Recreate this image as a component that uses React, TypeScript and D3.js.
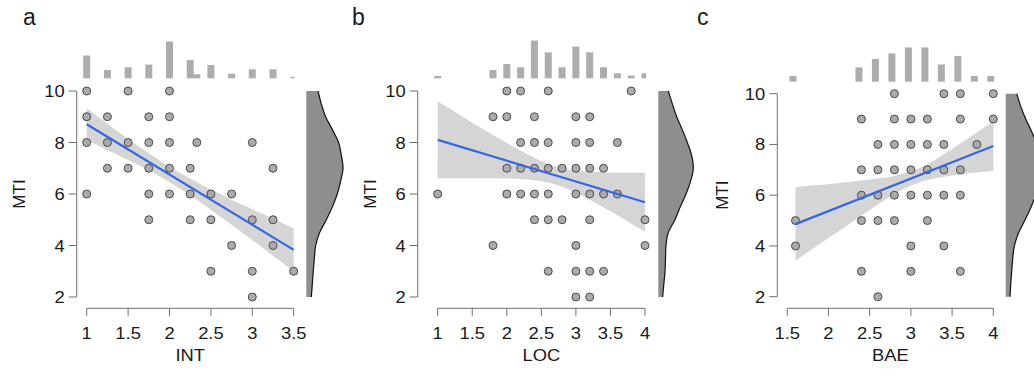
import React from 'react';
import * as d3 from 'd3';

// shared y axis
const yTicks = [2, 4, 6, 8, 10];
const mtiLevels = [2, 2.5, 3, 3.5, 4, 4.5, 5, 5.5, 6, 6.5, 7, 7.5, 8, 8.5, 9, 9.5, 10];

// panel a : INT
const intTicks = [1, 1.5, 2, 2.5, 3, 3.5];
const intPoints: [number, number][] = [
  [1, 10], [1.5, 10], [2, 10],
  [1, 9], [1.25, 9], [1.75, 9], [2, 9],
  [1, 8], [1.25, 8], [1.5, 8], [1.75, 8], [2, 8], [2.33, 8], [3, 8],
  [1.25, 7], [1.5, 7], [1.75, 7], [2, 7], [2.25, 7], [3.25, 7],
  [1, 6], [1.75, 6], [2, 6], [2.25, 6], [2.5, 6], [2.75, 6],
  [1.75, 5], [2.25, 5], [2.5, 5], [3, 5], [3.25, 5],
  [2.75, 4], [3.25, 4],
  [2.5, 3], [3, 3], [3.5, 3],
  [3, 2],
];
const intHistX = [1, 1.25, 1.5, 1.75, 2, 2.25, 2.33, 2.5, 2.75, 3, 3.25, 3.5];
const intHistN = [9.9, 3.6, 4.8, 6, 16, 8, 1.7, 5.8, 2, 3.9, 3.9, 0.7];
const intBandX = [1, 1.25, 1.5, 1.75, 2, 2.25, 2.5, 2.75, 3, 3.25, 3.5];
const intBandHi = [9.33, 8.73, 8.14, 7.58, 7.06, 6.6, 6.17, 5.78, 5.41, 5.04, 4.67];
const intBandLo = [8.09, 7.71, 7.32, 6.92, 6.46, 5.95, 5.39, 4.8, 4.21, 3.6, 2.99];
const intFit = [8.71, 3.83];
const intDens = [0.042, 0.05, 0.058, 0.067, 0.078, 0.111, 0.167, 0.217, 0.258, 0.286, 0.306, 0.292, 0.269, 0.217, 0.161, 0.125, 0.098];

// panel b : LOC
const locTicks = [1, 1.5, 2, 2.5, 3, 3.5, 4];
const locPoints: [number, number][] = [
  [2, 10], [2.2, 10], [2.6, 10], [3.8, 10],
  [1.8, 9], [2, 9], [2.4, 9], [3, 9], [3.2, 9],
  [2.2, 8], [2.4, 8], [2.6, 8], [3, 8], [3.2, 8], [3.6, 8],
  [2, 7], [2.2, 7], [2.4, 7], [2.6, 7], [2.8, 7], [3, 7], [3.2, 7], [3.4, 7],
  [1, 6], [2, 6], [2.2, 6], [2.4, 6], [2.6, 6], [3, 6], [3.2, 6], [3.4, 6], [3.6, 6],
  [2.4, 5], [2.6, 5], [2.8, 5], [3.2, 5], [4, 5],
  [1.8, 4], [3, 4], [4, 4],
  [2.6, 3], [3, 3], [3.2, 3], [3.4, 3],
  [3, 2], [3.2, 2],
];
const locHistX = [1, 1.8, 2, 2.2, 2.4, 2.6, 2.8, 3, 3.2, 3.4, 3.6, 3.8, 4];
const locHistN = [1, 3.6, 6.2, 4.8, 16.4, 11.3, 4.8, 13.8, 11.3, 4.8, 2.2, 1.2, 2.2];
const locBandX = [1, 1.25, 1.5, 1.75, 2, 2.25, 2.5, 2.75, 3, 3.25, 3.5, 3.75, 4];
const locBandHi = [9.59, 9.19, 8.77, 8.38, 7.98, 7.61, 7.28, 7.03, 6.91, 6.86, 6.83, 6.83, 6.83];
const locBandLo = [6.61, 6.61, 6.61, 6.61, 6.6, 6.57, 6.5, 6.33, 6.05, 5.7, 5.33, 4.93, 4.53];
const locFit = [8.1, 5.68];
const locDens = [0.036, 0.046, 0.056, 0.06, 0.064, 0.083, 0.139, 0.183, 0.231, 0.269, 0.292, 0.278, 0.242, 0.2, 0.153, 0.117, 0.083];

// panel c : BAE
const baeTicks = [1.5, 2, 2.5, 3, 3.5, 4];
const baePoints: [number, number][] = [
  [2.8, 10], [3.4, 10], [3.6, 10], [4, 10],
  [2.4, 9], [2.8, 9], [3, 9], [3.2, 9], [3.6, 9], [4, 9],
  [2.6, 8], [2.8, 8], [3, 8], [3.2, 8], [3.4, 8], [3.8, 8],
  [2.4, 7], [2.6, 7], [2.8, 7], [3, 7], [3.2, 7], [3.4, 7], [3.6, 7],
  [2.4, 6], [2.6, 6], [2.8, 6], [3, 6], [3.2, 6], [3.4, 6], [3.6, 6],
  [1.6, 5], [2.4, 5], [2.6, 5], [2.8, 5], [3.2, 5],
  [1.6, 4], [3, 4], [3.4, 4],
  [2.4, 3], [3, 3], [3.6, 3],
  [2.6, 2],
];
const baeHistX = [1.6, 2.4, 2.6, 2.8, 3, 3.2, 3.4, 3.6, 3.8, 4];
const baeHistN = [2.5, 6.2, 9.9, 12.3, 14.9, 14.9, 7.5, 11.2, 2.5, 2.5];
const baeBandX = [1.6, 1.8, 2, 2.2, 2.4, 2.6, 2.8, 3, 3.2, 3.4, 3.6, 3.8, 4];
const baeBandHi = [6.31, 6.38, 6.43, 6.51, 6.58, 6.66, 6.76, 6.94, 7.22, 7.61, 8.04, 8.47, 8.92];
const baeBandLo = [3.41, 3.87, 4.31, 4.75, 5.2, 5.63, 6.04, 6.38, 6.6, 6.73, 6.82, 6.89, 6.96];
const baeFit = [4.86, 7.94];
const baeDens = [0.036, 0.042, 0.05, 0.058, 0.072, 0.106, 0.158, 0.208, 0.25, 0.279, 0.292, 0.283, 0.258, 0.217, 0.167, 0.125, 0.092];

const FONT = '"Liberation Sans", Arial, sans-serif';
const axisCol = '#6f6f6f';
const textCol = '#1a1a1a';

const panels = [
  {
    id: 'a', title: 'INT', ticks: intTicks, points: intPoints, histX: intHistX, histN: intHistN,
    bandX: intBandX, bandHi: intBandHi, bandLo: intBandLo, fit: intFit, dens: intDens,
    xDomain: [1, 3.5], xRange: [86.7, 293.7], yRange: [297, 91], axisX: 76.7,
    histBase: 78.3, histShift: 0, histClip: true, densLeft: 306.3, labelX: 23, mtiX: 25,
  },
  {
    id: 'b', title: 'LOC', ticks: locTicks, points: locPoints, histX: locHistX, histN: locHistN,
    bandX: locBandX, bandHi: locBandHi, bandLo: locBandLo, fit: locFit, dens: locDens,
    xDomain: [1, 4], xRange: [437.7, 645], yRange: [297, 91], axisX: 417.7,
    histBase: 78.3, histShift: 0, histClip: true, densLeft: 658.3, labelX: 352, mtiX: 376,
  },
  {
    id: 'c', title: 'BAE', ticks: baeTicks, points: baePoints, histX: baeHistX, histN: baeHistN,
    bandX: baeBandX, bandHi: baeBandHi, bandLo: baeBandLo, fit: baeFit, dens: baeDens,
    xDomain: [1.6, 4], xRange: [795.5, 993.3], yRange: [296.7, 93.7], axisX: 777.3,
    histBase: 81.7, histShift: -2.5, histClip: false, densLeft: 1005.7, labelX: 697, mtiX: 727.5,
  },
];

function Txt({ x, y, anchor = 'middle', size = 17, sx = 1.08, children }: any) {
  return (
    <text transform={`translate(${x},${y}) scale(${sx},1)`} textAnchor={anchor}
      fontSize={size} fill={textCol} fontFamily={FONT}>{children}</text>
  );
}

function Panel({ p }: any) {
  const x = d3.scaleLinear().domain(p.xDomain).range(p.xRange);
  const y = d3.scaleLinear().domain([2, 10]).range(p.yRange);
  const h = d3.scaleLinear().domain([0, 16]).range([0, 36.8]);
  const dw = d3.scaleLinear().domain([0, 0.3]).range([0, 36]);

  const band = d3.area<number>()
    .x((_, i) => x(p.bandX[i]))
    .y0((_, i) => y(p.bandLo[i]))
    .y1((_, i) => y(p.bandHi[i]))
    .curve(d3.curveMonotoneX);

  const densArea = d3.area<number>()
    .y((_, i) => y(mtiLevels[i]))
    .x0(p.densLeft)
    .x1((d) => p.densLeft + dw(d))
    .curve(d3.curveCatmullRom);
  const densLine = d3.line<number>()
    .y((_, i) => y(mtiLevels[i]))
    .x((d) => p.densLeft + dw(d))
    .curve(d3.curveCatmullRom);

  const t0 = p.ticks[0];
  const t1 = p.ticks[p.ticks.length - 1];
  const axY = 308.3;
  const clipId = `hc-${p.id}`;
  const xEnd = x(p.bandX[p.bandX.length - 1]);

  return (
    <g>
      <text x={p.labelX} y={25} fontSize={23} fill={textCol} fontFamily={FONT}>{p.id}</text>

      {/* top histogram */}
      <defs>
        <clipPath id={clipId}>
          <rect x={0} y={0} width={p.histClip ? xEnd + 1 : 1034} height={90} />
        </clipPath>
      </defs>
      <g clipPath={`url(#${clipId})`} fill="#adadad">
        {p.histX.map((v: number, i: number) => (
          <rect key={i} x={x(v) - 3.5 + p.histShift} y={p.histBase - h(p.histN[i])}
            width={7} height={h(p.histN[i])} />
        ))}
      </g>

      {/* confidence band + fit */}
      <path d={band(p.bandX) || ''} fill="#d5d5d5" />
      {p.points.map((d: [number, number], i: number) => (
        <circle key={i} cx={x(d[0])} cy={y(d[1])} r={4} fill="#ababab" stroke="#4a4a4a" strokeWidth={1} />
      ))}
      <line x1={x(p.bandX[0])} y1={y(p.fit[0])} x2={xEnd} y2={y(p.fit[1])}
        stroke="#3766e3" strokeWidth={2.2} />

      {/* right density */}
      <path d={densArea(p.dens) || ''} fill="#8e8e8e" />
      <path d={densLine(p.dens) || ''} fill="none" stroke="#111" strokeWidth={1.2} />

      {/* y axis */}
      <line x1={p.axisX} x2={p.axisX} y1={y(2)} y2={y(10)} stroke={axisCol} />
      {yTicks.map((t) => (
        <g key={t}>
          <line x1={p.axisX - 8} x2={p.axisX} y1={y(t)} y2={y(t)} stroke={axisCol} />
          <Txt x={p.axisX - 12} y={y(t) + 6} anchor="end">{t}</Txt>
        </g>
      ))}
      <text transform={`translate(${p.mtiX},${(y(2) + y(10)) / 2}) rotate(-90)`} textAnchor="middle"
        fontSize={17} fill={textCol} fontFamily={FONT}>MTI</text>

      {/* x axis */}
      <line x1={x(t0)} x2={x(t1)} y1={axY} y2={axY} stroke={axisCol} />
      {p.ticks.map((t: number) => (
        <g key={t}>
          <line x1={x(t)} x2={x(t)} y1={axY} y2={axY + 7.5} stroke={axisCol} />
          <Txt x={x(t)} y={339}>{t}</Txt>
        </g>
      ))}
      <Txt x={(x(t0) + x(t1)) / 2} y={361}>{p.title}</Txt>
    </g>
  );
}

export default function App() {
  return (
    <svg width={1034} height={376} viewBox="0 0 1034 376"
      style={{ position: 'absolute', left: 0, top: 0, display: 'block', background: '#fff' }}>
      <rect width={1034} height={376} fill="#fff" />
      {panels.map((p) => <Panel key={p.id} p={p} />)}
    </svg>
  );
}
